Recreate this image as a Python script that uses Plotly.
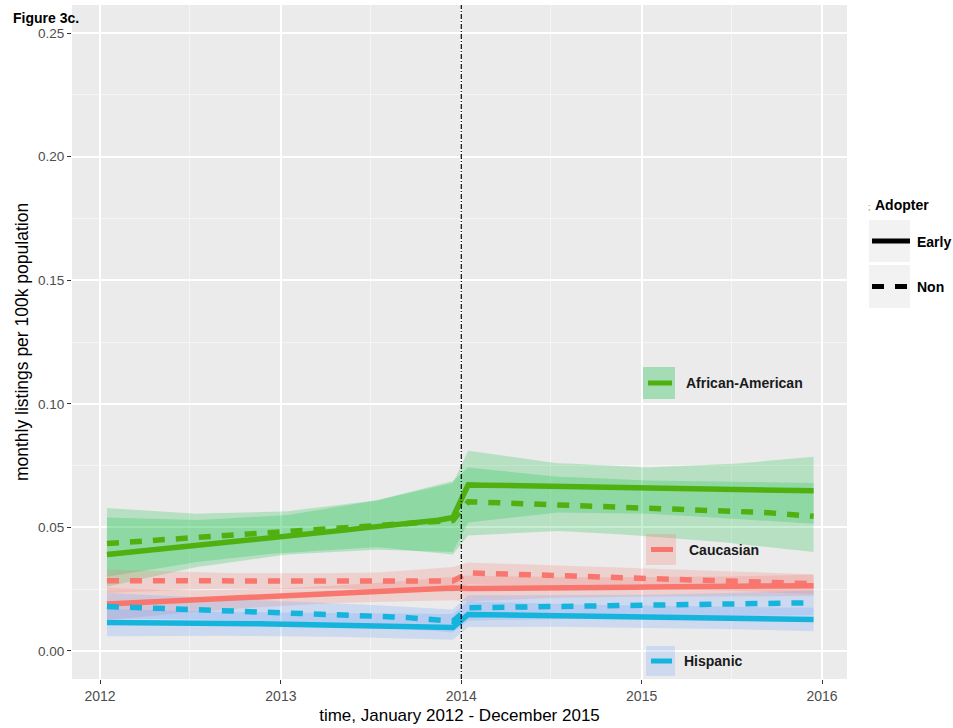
import pandas as pd
import plotly.graph_objects as go

# ---------------- data ----------------
months = pd.date_range("2012-01-01", periods=48, freq="MS") + pd.Timedelta(days=14)
intervention = "2014-01-01"
groups = ["African-American", "Caucasian", "Hispanic"]
adopters = ["Early", "Non"]
year_ticks = ["2012", "2013", "2014", "2015", "2016"]
y_ticks = [0.00, 0.05, 0.10, 0.15, 0.20, 0.25]

# African-American
aa_early = [.0390, .0396, .0402, .0408, .0415, .0421, .0427, .0433, .0440, .0446, .0452, .0459,
            .0465, .0471, .0478, .0484, .0490, .0497, .0503, .0509, .0516, .0522, .0529, .0540,
            .0672, .0671, .0670, .0669, .0668, .0667, .0666, .0665, .0665, .0664, .0663, .0662,
            .0661, .0660, .0659, .0658, .0657, .0656, .0655, .0654, .0652, .0651, .0649, .0648]
aa_non = [.0435, .0439, .0443, .0447, .0451, .0455, .0459, .0463, .0467, .0471, .0475, .0479,
          .0483, .0487, .0491, .0495, .0499, .0503, .0507, .0511, .0515, .0519, .0523, .0528,
          .0604, .0602, .0600, .0598, .0596, .0594, .0592, .0590, .0588, .0586, .0584, .0582,
          .0580, .0578, .0576, .0574, .0571, .0568, .0565, .0562, .0559, .0556, .0552, .0545]
aa_early_lo = [.0260, .0273, .0287, .0300, .0313, .0327, .0340, .0348, .0357, .0365, .0373, .0382,
               .0390, .0393, .0397, .0400, .0403, .0407, .0410, .0408, .0406, .0404, .0402, .0400,
               .0520, .0527, .0533, .0540, .0547, .0553, .0560, .0559, .0558, .0558, .0557, .0556,
               .0555, .0552, .0548, .0545, .0542, .0538, .0535, .0531, .0527, .0523, .0519, .0515]
aa_early_hi = [.0540, .0538, .0537, .0535, .0533, .0532, .0530, .0533, .0537, .0540, .0543, .0547,
               .0550, .0560, .0570, .0580, .0590, .0600, .0610, .0624, .0638, .0652, .0666, .0680,
               .0810, .0802, .0793, .0785, .0777, .0768, .0760, .0757, .0754, .0751, .0748, .0745,
               .0742, .0745, .0747, .0750, .0753, .0755, .0758, .0764, .0769, .0775, .0780, .0786]
aa_non_lo = [.0300, .0310, .0320, .0330, .0340, .0350, .0360, .0367, .0373, .0380, .0387, .0393,
             .0400, .0403, .0407, .0410, .0413, .0417, .0420, .0414, .0408, .0402, .0396, .0390,
             .0467, .0470, .0473, .0476, .0479, .0482, .0485, .0482, .0478, .0475, .0472, .0468,
             .0465, .0460, .0455, .0450, .0445, .0440, .0435, .0428, .0421, .0414, .0407, .0400]
aa_non_hi = [.0578, .0574, .0570, .0567, .0563, .0559, .0555, .0557, .0558, .0560, .0562, .0563,
             .0565, .0573, .0580, .0588, .0595, .0603, .0610, .0626, .0641, .0657, .0672, .0688,
             .0742, .0736, .0730, .0724, .0717, .0711, .0705, .0703, .0700, .0698, .0695, .0693,
             .0690, .0689, .0688, .0688, .0687, .0686, .0685, .0684, .0683, .0682, .0681, .0680]

# Caucasian
ca_early = [.0190, .0193, .0196, .0199, .0202, .0205, .0208, .0211, .0214, .0217, .0220, .0223,
            .0226, .0229, .0232, .0235, .0238, .0241, .0244, .0246, .0249, .0251, .0253, .0255,
            .0253, .0253, .0254, .0254, .0255, .0255, .0256, .0256, .0257, .0257, .0258, .0258,
            .0259, .0259, .0260, .0260, .0261, .0261, .0262, .0262, .0263, .0263, .0264, .0264]
ca_non = [.0284, .0284, .0284, .0284, .0284, .0284, .0283, .0283, .0283, .0283, .0283, .0283,
          .0283, .0283, .0283, .0283, .0283, .0283, .0283, .0283, .0283, .0283, .0283, .0283,
          .0316, .0315, .0313, .0311, .0309, .0307, .0305, .0303, .0301, .0299, .0297, .0295,
          .0293, .0291, .0289, .0287, .0285, .0283, .0281, .0279, .0278, .0276, .0274, .0272]
ca_early_lo = [.0125, .0131, .0137, .0143, .0148, .0154, .0160, .0164, .0168, .0173, .0177, .0181,
               .0185, .0188, .0190, .0193, .0195, .0198, .0200, .0201, .0202, .0203, .0204, .0205,
               .0200, .0203, .0205, .0208, .0210, .0213, .0215, .0216, .0217, .0218, .0218, .0219,
               .0220, .0220, .0221, .0221, .0221, .0222, .0222, .0222, .0222, .0222, .0222, .0222]
ca_early_hi = [.0255, .0253, .0252, .0250, .0248, .0247, .0245, .0247, .0248, .0250, .0252, .0253,
               .0255, .0258, .0262, .0265, .0268, .0272, .0275, .0280, .0285, .0290, .0295, .0300,
               .0305, .0304, .0303, .0302, .0300, .0299, .0298, .0298, .0298, .0298, .0298, .0298,
               .0298, .0299, .0299, .0300, .0301, .0301, .0302, .0303, .0304, .0306, .0307, .0308]
ca_non_lo = [.0235, .0238, .0240, .0243, .0245, .0248, .0250, .0251, .0252, .0253, .0253, .0254,
             .0255, .0254, .0253, .0253, .0252, .0251, .0250, .0248, .0246, .0244, .0242, .0240,
             .0270, .0269, .0267, .0266, .0265, .0263, .0262, .0261, .0260, .0258, .0257, .0256,
             .0255, .0253, .0251, .0249, .0247, .0245, .0243, .0240, .0238, .0235, .0233, .0230]
ca_non_hi = [.0330, .0328, .0326, .0324, .0322, .0320, .0318, .0317, .0316, .0316, .0315, .0314,
             .0313, .0314, .0315, .0315, .0316, .0317, .0318, .0322, .0327, .0331, .0336, .0340,
             .0358, .0356, .0354, .0352, .0349, .0347, .0345, .0343, .0342, .0340, .0338, .0337,
             .0335, .0333, .0331, .0329, .0326, .0324, .0322, .0320, .0317, .0315, .0312, .0310]

# Hispanic
hi_early = [.0115, .0115, .0114, .0114, .0113, .0113, .0112, .0112, .0111, .0110, .0110, .0109,
            .0108, .0108, .0107, .0106, .0105, .0104, .0103, .0102, .0101, .0099, .0097, .0095,
            .0148, .0147, .0146, .0145, .0145, .0144, .0143, .0142, .0141, .0140, .0139, .0139,
            .0138, .0137, .0136, .0135, .0134, .0133, .0132, .0131, .0130, .0129, .0128, .0127]
hi_non = [.0180, .0178, .0176, .0174, .0172, .0170, .0168, .0166, .0164, .0162, .0160, .0158,
          .0156, .0153, .0151, .0148, .0146, .0143, .0141, .0138, .0135, .0131, .0126, .0120,
          .0175, .0176, .0177, .0178, .0178, .0179, .0180, .0181, .0182, .0182, .0183, .0184,
          .0185, .0186, .0187, .0187, .0188, .0189, .0190, .0191, .0192, .0193, .0194, .0195]
hi_early_lo = [.0060, .0060, .0061, .0061, .0061, .0062, .0062, .0062, .0062, .0061, .0061, .0060,
               .0060, .0059, .0058, .0058, .0057, .0056, .0055, .0053, .0051, .0049, .0047, .0045,
               .0097, .0097, .0097, .0098, .0098, .0098, .0098, .0098, .0097, .0097, .0096, .0096,
               .0095, .0094, .0093, .0092, .0090, .0089, .0088, .0086, .0085, .0083, .0082, .0080]
hi_early_hi = [.0170, .0168, .0167, .0165, .0163, .0162, .0160, .0159, .0158, .0158, .0157, .0156,
               .0155, .0155, .0154, .0154, .0153, .0153, .0152, .0152, .0151, .0151, .0150, .0150,
               .0200, .0198, .0197, .0195, .0193, .0192, .0190, .0189, .0187, .0186, .0185, .0183,
               .0182, .0181, .0181, .0180, .0179, .0179, .0178, .0177, .0177, .0176, .0176, .0175]
hi_non_lo = [.0130, .0130, .0129, .0129, .0129, .0128, .0128, .0126, .0125, .0123, .0121, .0120,
             .0118, .0115, .0112, .0109, .0106, .0103, .0100, .0095, .0090, .0085, .0080, .0075,
             .0122, .0124, .0125, .0127, .0129, .0130, .0132, .0133, .0134, .0135, .0136, .0137,
             .0138, .0139, .0139, .0140, .0141, .0141, .0142, .0143, .0143, .0144, .0144, .0145]
hi_non_hi = [.0235, .0232, .0228, .0225, .0222, .0218, .0215, .0213, .0210, .0208, .0205, .0203,
             .0200, .0198, .0195, .0193, .0190, .0188, .0185, .0182, .0178, .0175, .0171, .0168,
             .0225, .0225, .0225, .0225, .0225, .0225, .0225, .0226, .0226, .0226, .0227, .0227,
             .0228, .0229, .0231, .0232, .0233, .0235, .0236, .0238, .0240, .0241, .0243, .0245]

# ---------------- styling ----------------
FONT = "Liberation Sans, Arial, Helvetica, sans-serif"
line_colors = {"African-American": "#50B010", "Caucasian": "#F8766D", "Hispanic": "#14B4DC"}
band_colors = {"African-American": "rgba(0,186,56,0.22)",
               "Caucasian": "rgba(248,118,109,0.22)",
               "Hispanic": "rgba(97,156,255,0.22)"}
key_colors = {"African-American": "rgba(0,186,56,0.30)",
              "Caucasian": "rgba(248,118,109,0.25)",
              "Hispanic": "rgba(97,156,255,0.22)"}
dash_style = {"Early": "solid", "Non": "12px,11px"}

series = {
    ("African-American", "Early"): (aa_early, aa_early_lo, aa_early_hi),
    ("African-American", "Non"): (aa_non, aa_non_lo, aa_non_hi),
    ("Caucasian", "Early"): (ca_early, ca_early_lo, ca_early_hi),
    ("Caucasian", "Non"): (ca_non, ca_non_lo, ca_non_hi),
    ("Hispanic", "Early"): (hi_early, hi_early_lo, hi_early_hi),
    ("Hispanic", "Non"): (hi_non, hi_non_lo, hi_non_hi),
}

fig = go.Figure()
xs = list(months)
# ribbons
for (g, a), (mid, lo, hi) in series.items():
    fig.add_trace(go.Scatter(
        x=xs + xs[::-1], y=list(hi) + list(lo)[::-1],
        fill="toself", fillcolor=band_colors[g], line=dict(width=0),
        mode="lines", hoverinfo="skip", showlegend=False))
# lines
for (g, a), (mid, lo, hi) in series.items():
    fig.add_trace(go.Scatter(
        x=xs, y=mid, mode="lines", name=f"{g} - {a}",
        line=dict(color=line_colors[g], width=5.5, dash=dash_style[a]),
        showlegend=False))

# ---------------- layout helpers (pixel -> paper) ----------------
L, R, T, B, W, H = 72, 106, 5, 49, 953, 728
PW, PH = W - L - R, H - T - B


def fx(px):
    return (px - L) / PW


def fy(py):
    return (H - B - py) / PH


shapes = [dict(type="line", xref="x", yref="paper", x0=intervention, x1=intervention,
               y0=0, y1=1, line=dict(color="black", width=1.2, dash="5px,2px,1px,2px"))]
annotations = []

# color key (inside panel)
color_keys = [("African-American", 643, 675, 367, 399, 684),
              ("Caucasian", 646, 676, 534, 565, 687),
              ("Hispanic", 646, 675, 646, 676, 682)]
for g, x0, x1, y0, y1, tx in color_keys:
    shapes.append(dict(type="rect", xref="paper", yref="paper", x0=fx(x0), x1=fx(x1),
                       y0=fy(y1), y1=fy(y0), fillcolor=key_colors[g], line=dict(width=0)))
    yc = (y0 + y1) / 2
    shapes.append(dict(type="line", xref="paper", yref="paper", x0=fx(x0 + 5), x1=fx(x1 - 3),
                       y0=fy(yc), y1=fy(yc), line=dict(color=line_colors[g], width=5)))
    annotations.append(dict(text=f"<b>{g}</b>", xref="paper", yref="paper", x=fx(tx), y=fy(yc),
                            xanchor="left", yanchor="middle", showarrow=False,
                            font=dict(family=FONT, size=14, color="#1a1a1a")))

# adopter key (right)
annotations.append(dict(text=";", xref="paper", yref="paper", x=fx(866), y=fy(207),
                        xanchor="left", yanchor="middle", showarrow=False,
                        font=dict(family=FONT, size=9, color="#B8860B")))
annotations.append(dict(text="<b>Adopter</b>", xref="paper", yref="paper", x=fx(873), y=fy(205),
                        xanchor="left", yanchor="middle", showarrow=False,
                        font=dict(family=FONT, size=14, color="black")))
adopter_keys = [("Early", 220, 262), ("Non", 265, 308)]
for a, y0, y1 in adopter_keys:
    shapes.append(dict(type="rect", xref="paper", yref="paper", x0=fx(869), x1=fx(910),
                       y0=fy(y1), y1=fy(y0), fillcolor="#F2F2F2", line=dict(width=0)))
    yc = (y0 + y1) / 2
    shapes.append(dict(type="line", xref="paper", yref="paper", x0=fx(872), x1=fx(910),
                       y0=fy(yc), y1=fy(yc),
                       line=dict(color="black", width=5, dash=dash_style[a])))
    annotations.append(dict(text=f"<b>{a}</b>", xref="paper", yref="paper", x=fx(915), y=fy(yc + 1),
                            xanchor="left", yanchor="middle", showarrow=False,
                            font=dict(family=FONT, size=14, color="black")))

# figure label
annotations.append(dict(text="<b>Figure 3c.</b>", xref="paper", yref="paper", x=fx(11), y=fy(18),
                        xanchor="left", yanchor="middle", showarrow=False,
                        font=dict(family=FONT, size=14, color="black")))

fig.update_layout(
    width=W, height=H, margin=dict(l=L, r=R, t=T, b=B),
    paper_bgcolor="white", plot_bgcolor="#EBEBEB",
    font=dict(family=FONT, color="black"),
    showlegend=False, shapes=shapes, annotations=annotations,
    xaxis=dict(
        type="date", range=["2011-11-05 06:00", "2016-02-20 14:00"],
        tickvals=[f"{y}-01-01" for y in year_ticks], ticktext=year_ticks,
        showgrid=True, gridcolor="white", gridwidth=1.6, zeroline=False, showline=False,
        ticks="outside", ticklen=4, tickwidth=1, tickcolor="#333333",
        tickfont=dict(family=FONT, size=14, color="#4D4D4D"),
        minor=dict(dtick="M6", tick0="2012-01-01", showgrid=True, gridcolor="#F5F5F5", gridwidth=0.8),
        title=dict(text="time, January 2012 - December 2015", standoff=6,
                   font=dict(family=FONT, size=17, color="black")),
    ),
    yaxis=dict(
        range=[-0.01133, 0.26133], tickvals=y_ticks, tickformat=".2f",
        showgrid=True, gridcolor="white", gridwidth=1.6, zeroline=False, showline=False,
        ticks="outside", ticklen=4, tickwidth=1, tickcolor="#333333",
        tickfont=dict(family=FONT, size=13.5, color="#4D4D4D"),
        minor=dict(dtick=0.025, tick0=0, showgrid=True, gridcolor="#F5F5F5", gridwidth=0.8),
        title=dict(text="monthly listings per 100k population", standoff=4,
                   font=dict(family=FONT, size=17.5, color="black")),
    ),
)

fig.write_html("out.html", config={"displayModeBar": False})
